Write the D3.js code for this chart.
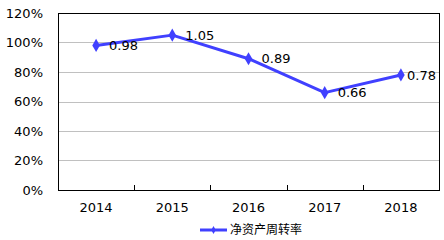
<!DOCTYPE html>
<html lang="zh">
<head>
<meta charset="UTF-8">
<title>净资产周转率</title>
<script src="https://d3js.org/d3.v7.min.js"></script>
<style>
  body { margin: 0; background: #fff; }
  svg { display: block; }
  .tick-label { font-family: "DejaVu Sans", Verdana, sans-serif; font-size: 13px; fill: #000; }
  .value-label { font-family: "DejaVu Sans", Verdana, sans-serif; font-size: 13px; fill: #000; }
  .legend-text { font-family: "Noto Sans CJK SC", sans-serif; font-size: 12px; fill: #000; }
</style>
</head>
<body>
<script>
  // chart data
  const years = ["2014", "2015", "2016", "2017", "2018"];
  const turnover = [0.98, 1.05, 0.89, 0.66, 0.78];
  const yTicks = [0, 0.2, 0.4, 0.6, 0.8, 1.0, 1.2];
  const seriesName = "净资产周转率";

  const width = 444, height = 240;
  const plot = { left: 58, right: 439, top: 13, bottom: 190 };
  const blue = "#4040ff";

  const svg = d3.select("body").append("svg")
    .attr("width", width)
    .attr("height", height);

  const x = d3.scaleBand()
    .domain(years)
    .range([plot.left, plot.right]);

  const y = d3.scaleLinear()
    .domain([0, 1.2])
    .range([plot.bottom, plot.top]);

  // gridlines
  svg.append("g")
    .selectAll("line")
    .data(yTicks)
    .join("line")
    .attr("x1", plot.left)
    .attr("x2", plot.right)
    .attr("y1", d => Math.round(y(d)) + 0.5)
    .attr("y2", d => Math.round(y(d)) + 0.5)
    .attr("stroke", "#c0c0c0")
    .attr("stroke-width", 1);

  // plot frame
  svg.append("rect")
    .attr("x", plot.left + 0.5)
    .attr("y", plot.top + 0.5)
    .attr("width", plot.right - plot.left)
    .attr("height", plot.bottom - plot.top)
    .attr("fill", "none")
    .attr("stroke", "#000")
    .attr("stroke-width", 1);

  // y labels
  svg.append("g")
    .selectAll("text")
    .data(yTicks)
    .join("text")
    .attr("class", "tick-label")
    .attr("x", 43)
    .attr("y", d => y(d))
    .attr("dy", "0.36em")
    .attr("text-anchor", "end")
    .text(d => d3.format(".0%")(d));

  // x axis: ticks between categories, pointing inward
  const bounds = years.slice(1).map(d => x(d));
  svg.append("g")
    .selectAll("line")
    .data(bounds)
    .join("line")
    .attr("x1", d => Math.round(d) + 0.5)
    .attr("x2", d => Math.round(d) + 0.5)
    .attr("y1", plot.bottom)
    .attr("y2", plot.bottom - 5)
    .attr("stroke", "#000");

  svg.append("g")
    .selectAll("text")
    .data(years)
    .join("text")
    .attr("class", "tick-label")
    .attr("x", d => x(d) + x.bandwidth() / 2)
    .attr("y", 212)
    .attr("text-anchor", "middle")
    .text(d => d);

  // line
  const pts = years.map((d, i) => ({ year: d, v: turnover[i] }));
  const line = d3.line()
    .x(d => x(d.year) + x.bandwidth() / 2)
    .y(d => y(d.v));

  svg.append("path")
    .datum(pts)
    .attr("d", line)
    .attr("fill", "none")
    .attr("stroke", blue)
    .attr("stroke-width", 3)
    .attr("stroke-linejoin", "round");

  const diamond = d3.symbol().type(d3.symbolDiamond).size(50);
  svg.append("g")
    .selectAll("path")
    .data(pts)
    .join("path")
    .attr("transform", d => `translate(${x(d.year) + x.bandwidth() / 2},${y(d.v)})`)
    .attr("d", diamond)
    .attr("fill", blue);

  // value labels, kept inside the plot frame
  svg.append("g")
    .selectAll("text")
    .data(pts)
    .join("text")
    .attr("class", "value-label")
    .attr("y", d => y(d.v))
    .attr("dy", "0.36em")
    .text(d => d3.format(".2f")(d.v))
    .attr("x", function (d) {
      const cx = x(d.year) + x.bandwidth() / 2;
      const w = this.getComputedTextLength();
      return Math.min(cx + 13, plot.right - w - 3);
    });

  // legend
  const lg = svg.append("g").attr("transform", "translate(200,230)");
  lg.append("line")
    .attr("x1", 0).attr("x2", 27)
    .attr("y1", 0).attr("y2", 0)
    .attr("stroke", blue)
    .attr("stroke-width", 3);
  lg.append("path")
    .attr("transform", "translate(13.5,0)")
    .attr("d", d3.symbol().type(d3.symbolDiamond).size(18))
    .attr("fill", blue);
  lg.append("text")
    .attr("class", "legend-text")
    .attr("x", 30)
    .attr("y", 0)
    .attr("dy", "0.36em")
    .text(seriesName);
</script>
</body>
</html>
